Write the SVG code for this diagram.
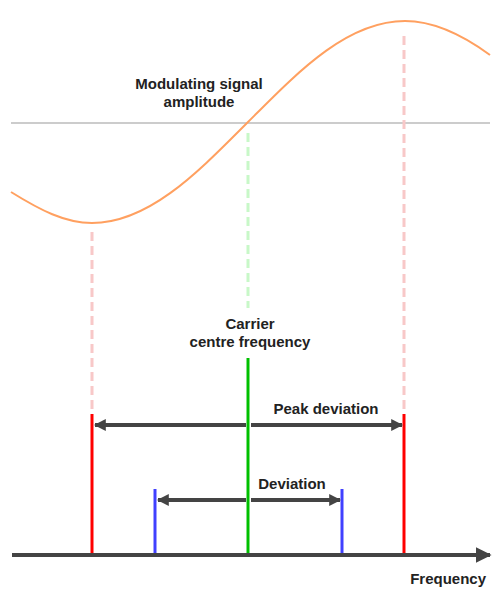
<svg xmlns="http://www.w3.org/2000/svg" width="500" height="600" viewBox="0 0 500 600">
<style>
text{font-family:"Liberation Sans",Arial,sans-serif;font-weight:bold;font-size:15px;fill:#222}
.dash{stroke-width:3;stroke-dasharray:9 5;fill:none}
.arr{stroke:#444;stroke-width:4;fill:none}
</style>
<defs>
<marker id="ah" viewBox="0 0 10 10" refX="9" refY="5" markerWidth="3" markerHeight="3" orient="auto-start-reverse" markerUnits="strokeWidth">
<path d="M0,0L10,5L0,10z" fill="#444"/>
</marker>
<marker id="ax" viewBox="0 0 10 10" refX="9" refY="5" markerWidth="4" markerHeight="4" orient="auto" markerUnits="strokeWidth">
<path d="M0,0L10,5L0,10z" fill="#444"/>
</marker>
</defs>
<rect width="500" height="600" fill="#fff"/>
<g id="baseline-grid">
<line x1="11" y1="123" x2="490" y2="123" stroke="#ccc" stroke-width="2"/>
</g>
<g id="guides">
<line class="dash" x1="92" y1="232" x2="92" y2="410" stroke="#f8c8c8"/>
<line class="dash" x1="404" y1="36" x2="404" y2="410" stroke="#f8c8c8"/>
<line class="dash" x1="248" y1="133" x2="248" y2="308" stroke="#c8f8c8"/>
</g>
<g id="signal">
<path id="sine" fill="none" stroke="#ffa060" stroke-width="2" d="M11,192 C40,210 65,223 92,223 C150,223 200,170 248,122 C296,74 346,21 405,21 C430,21 460,33 490,55"/>
</g>
<g id="carrier"><line x1="248" y1="358" x2="248" y2="554" stroke="#00c000" stroke-width="3"/></g>
<g id="peak-left"><line x1="92" y1="414" x2="92" y2="554" stroke="#ff0000" stroke-width="3"/></g>
<g id="peak-right"><line x1="404" y1="414" x2="404" y2="554" stroke="#ff0000" stroke-width="3"/></g>
<g id="dev-left"><line x1="155" y1="489" x2="155" y2="554" stroke="#4040ff" stroke-width="3"/></g>
<g id="dev-right"><line x1="342" y1="489" x2="342" y2="554" stroke="#4040ff" stroke-width="3"/></g>
<g id="connectors">
<line class="arr" x1="12" y1="555" x2="490" y2="555" stroke-width="3" marker-end="url(#ax)"/>
<line class="arr" x1="246" y1="425" x2="95" y2="425" marker-end="url(#ah)"/>
<line class="arr" x1="251" y1="425" x2="402" y2="425" marker-end="url(#ah)"/>
<line class="arr" x1="246" y1="500" x2="158" y2="500" marker-end="url(#ah)"/>
<line class="arr" x1="251" y1="500" x2="340" y2="500" marker-end="url(#ah)"/>
</g>
<g id="labels">
<text x="199" y="89" text-anchor="middle">Modulating signal</text>
<text x="199" y="107" text-anchor="middle">amplitude</text>
<text x="250" y="329" text-anchor="middle">Carrier</text>
<text x="250" y="347" text-anchor="middle">centre frequency</text>
<text x="326" y="414" text-anchor="middle">Peak deviation</text>
<text x="292" y="489" text-anchor="middle">Deviation</text>
<text x="486" y="584" text-anchor="end">Frequency</text>
</g>
</svg>
